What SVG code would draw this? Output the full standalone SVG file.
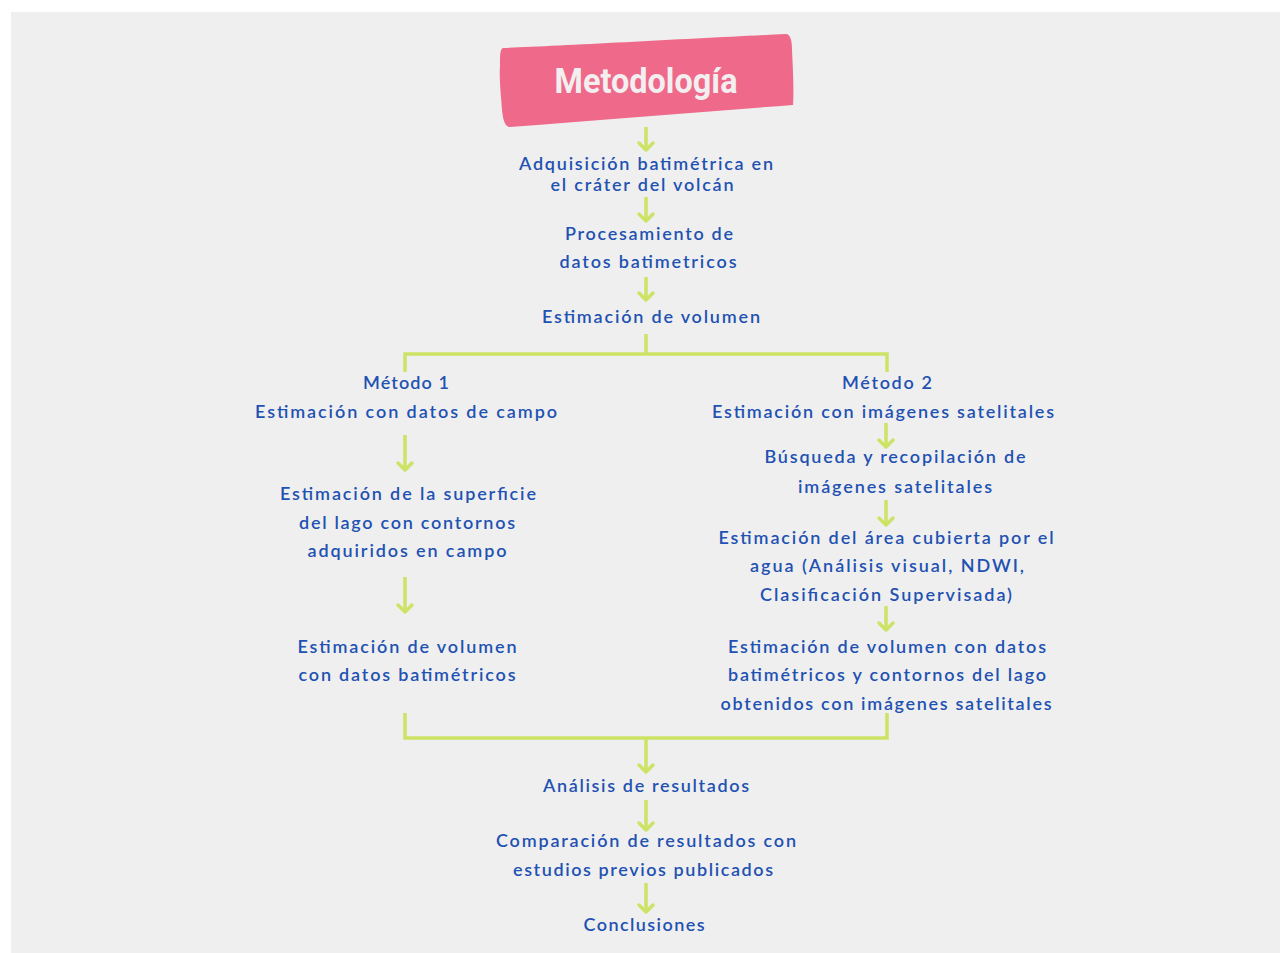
<svg xmlns="http://www.w3.org/2000/svg" width="1280" height="953" viewBox="0 0 1280 953">
<defs>
<style>
.t{font-family:"Lato","Open Sans",sans-serif;font-size:18px;font-weight:600;fill:#1f52b2;text-anchor:middle}
.c{fill:none;stroke:#cde366;stroke-width:3.5}
.title{font-family:"Roboto","Liberation Sans",sans-serif;font-size:35px;font-weight:700;fill:#f3eff0;text-anchor:middle}
</style>
<marker id="ah" viewBox="-10 -10 20 20" refX="0" refY="0" markerWidth="20" markerHeight="20" markerUnits="userSpaceOnUse" orient="auto">
<path d="M-7,-7 L0,0 L-7,7" fill="none" stroke="#cde366" stroke-width="3.5" stroke-linecap="round" stroke-linejoin="round"/>
</marker>
</defs>
<rect x="0" y="0" width="1280" height="953" fill="#ffffff"/>
<rect x="11" y="12" width="1269" height="941" fill="#efefef"/>

<g id="title">
<path d="M503,48 C560,46 700,38 786,34 C790,34 792,40 792,50 C793,70 794,90 793,105 C700,112 600,120 510,127 C505,127 503,120 502,110 C501,95 499,80 500,65 C500,55 500,49 503,48 Z" fill="#ef6a8a"/>
<text class="title" x="646" y="93" textLength="183" lengthAdjust="spacingAndGlyphs">Metodología</text>
</g>

<g id="connectors">
<path class="c" d="M646,127 V150" marker-end="url(#ah)"/>
<path class="c" d="M646,197 V221" marker-end="url(#ah)"/>
<path class="c" d="M646,277 V300" marker-end="url(#ah)"/>
<path class="c" d="M646,334 V354"/>
<path class="c" d="M405,372 V354 H887 V372"/>
<path class="c" d="M405,435 V470" marker-end="url(#ah)"/>
<path class="c" d="M405,577 V612" marker-end="url(#ah)"/>
<path class="c" d="M886,423 V447" marker-end="url(#ah)"/>
<path class="c" d="M886,500 V525" marker-end="url(#ah)"/>
<path class="c" d="M886,606 V630" marker-end="url(#ah)"/>
<path class="c" d="M405,713 V738 H887 V713"/>
<path class="c" d="M646,738 V772" marker-end="url(#ah)"/>
<path class="c" d="M646,800 V830" marker-end="url(#ah)"/>
<path class="c" d="M646,883 V912" marker-end="url(#ah)"/>
</g>

<g id="n-adquisicion">
<text class="t" x="646" y="170" textLength="254" lengthAdjust="spacing">Adquisición batimétrica en</text>
<text class="t" x="642" y="191" textLength="183" lengthAdjust="spacing">el cráter del volcán</text>
</g>
<g id="n-procesamiento">
<text class="t" x="649" y="240" textLength="168" lengthAdjust="spacing">Procesamiento de</text>
<text class="t" x="648" y="268" textLength="177" lengthAdjust="spacing">datos batimetricos</text>
</g>
<g id="n-estimacion">
<text class="t" x="651" y="323" textLength="218" lengthAdjust="spacing">Estimación de volumen</text>
</g>
<g id="n-metodo1">
<text class="t" x="406" y="389" textLength="86" lengthAdjust="spacing">Método 1</text>
<text class="t" x="406" y="418" textLength="302" lengthAdjust="spacing">Estimación con datos de campo</text>
</g>
<g id="n-metodo2">
<text class="t" x="887" y="389" textLength="90" lengthAdjust="spacing">Método 2</text>
<text class="t" x="883" y="418" textLength="342" lengthAdjust="spacing">Estimación con imágenes satelitales</text>
</g>
<g id="n-superficie">
<text class="t" x="408" y="500" textLength="256" lengthAdjust="spacing">Estimación de la superficie</text>
<text class="t" x="407" y="529" textLength="216" lengthAdjust="spacing">del lago con contornos</text>
<text class="t" x="407" y="557" textLength="199" lengthAdjust="spacing">adquiridos en campo</text>
</g>
<g id="n-volumen1">
<text class="t" x="407" y="653" textLength="219" lengthAdjust="spacing">Estimación de volumen</text>
<text class="t" x="407" y="681" textLength="217" lengthAdjust="spacing">con datos batimétricos</text>
</g>
<g id="n-busqueda">
<text class="t" x="895" y="463" textLength="261" lengthAdjust="spacing">Búsqueda y recopilación de</text>
<text class="t" x="895" y="493" textLength="194" lengthAdjust="spacing">imágenes satelitales</text>
</g>
<g id="n-area">
<text class="t" x="886" y="544" textLength="335" lengthAdjust="spacing">Estimación del área cubierta por el</text>
<text class="t" x="887" y="572" textLength="274" lengthAdjust="spacing">agua (Análisis visual, NDWI,</text>
<text class="t" x="886" y="601" textLength="252" lengthAdjust="spacing">Clasificación Supervisada)</text>
</g>
<g id="n-volumen2">
<text class="t" x="887" y="653" textLength="318" lengthAdjust="spacing">Estimación de volumen con datos</text>
<text class="t" x="887" y="681" textLength="318" lengthAdjust="spacing">batimétricos y contornos del lago</text>
<text class="t" x="886" y="710" textLength="331" lengthAdjust="spacing">obtenidos con imágenes satelitales</text>
</g>
<g id="n-analisis">
<text class="t" x="646" y="792" textLength="206" lengthAdjust="spacing">Análisis de resultados</text>
</g>
<g id="n-comparacion">
<text class="t" x="646" y="847" textLength="300" lengthAdjust="spacing">Comparación de resultados con</text>
<text class="t" x="643" y="876" textLength="260" lengthAdjust="spacing">estudios previos publicados</text>
</g>
<g id="n-conclusiones">
<text class="t" x="644" y="931" textLength="121" lengthAdjust="spacing">Conclusiones</text>
</g>
</svg>
